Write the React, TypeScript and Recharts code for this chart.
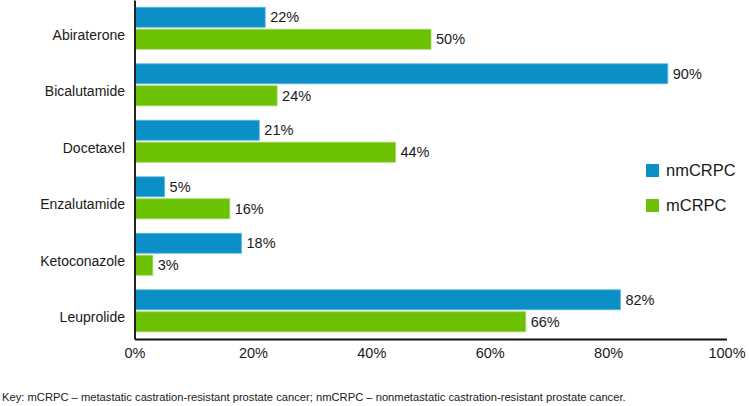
import { Bar, BarChart, LabelList, XAxis, YAxis } from "recharts";

const drugs = ["Abiraterone", "Bicalutamide", "Docetaxel", "Enzalutamide", "Ketoconazole", "Leuprolide"];
const nmCRPC = [22, 90, 21, 5, 18, 82];
const mCRPC = [50, 24, 44, 16, 3, 66];
const xTicks = [0, 20, 40, 60, 80, 100];

const seriesNames = ["nmCRPC", "mCRPC"];
const BLUE = "#0A8FC7";
const GREEN = "#6CC102";
const FONT = "'Liberation Sans', Arial, sans-serif";

const data = drugs.map((name, i) => ({ name, nmCRPC: nmCRPC[i], mCRPC: mCRPC[i] }));

function CategoryTick(props: any) {
  const { x, y, payload } = props;
  return (
    <text x={x - 2} y={y} dy={11} textAnchor="end" fontSize={14} fill="#1a1a1a" fontFamily={FONT}>
      {payload.value}
    </text>
  );
}

export default function App() {
  return (
    <div
      style={{
        position: "absolute",
        left: 0,
        top: 0,
        width: 749,
        height: 406,
        background: "#fff",
        fontFamily: FONT,
      }}
    >
      <BarChart
        width={749}
        height={380}
        data={data}
        layout="vertical"
        margin={{ top: 0.5, right: 22, bottom: 0, left: 0 }}
        barCategoryGap="12%"
        barGap={2}
      >
        <XAxis
          type="number"
          domain={[0, 100]}
          ticks={xTicks}
          tickFormatter={(v) => `${v}%`}
          tickLine={false}
          axisLine={{ stroke: "#111", strokeWidth: 2 }}
          tick={{ fontSize: 14.5, fill: "#1a1a1a", fontFamily: FONT }}
          height={40.5}
          interval={0}
        />
        <YAxis
          type="category"
          dataKey="name"
          width={135}
          tickLine={false}
          axisLine={{ stroke: "#222", strokeWidth: 2 }}
          tick={<CategoryTick />}
        />
        <Bar dataKey="nmCRPC" fill={BLUE} stroke="#5FB8E0" strokeWidth={0.8} isAnimationActive={false}>
          <LabelList
            dataKey="nmCRPC"
            position="right"
            offset={5}
            formatter={(v: any) => `${v}%`}
            style={{ fontSize: 14.5, fill: "#1a1a1a", fontFamily: FONT }}
          />
        </Bar>
        <Bar dataKey="mCRPC" fill={GREEN} stroke="#9AD65A" strokeWidth={0.8} isAnimationActive={false}>
          <LabelList
            dataKey="mCRPC"
            position="right"
            offset={5}
            formatter={(v: any) => `${v}%`}
            style={{ fontSize: 14.5, fill: "#1a1a1a", fontFamily: FONT }}
          />
        </Bar>
      </BarChart>

      {seriesNames.map((name, i) => (
        <div
          key={name}
          style={{
            position: "absolute",
            left: 646,
            top: 160 + i * 35,
            display: "flex",
            alignItems: "center",
            height: 20,
          }}
        >
          <span
            style={{
              display: "inline-block",
              width: 13,
              height: 13,
              background: i === 0 ? BLUE : GREEN,
              marginRight: 7,
            }}
          />
          <span style={{ fontSize: 16.5, color: "#1a1a1a" }}>{name}</span>
        </div>
      ))}

      <div
        style={{
          position: "absolute",
          left: 2,
          top: 391,
          fontSize: 11.2,
          color: "#1a1a1a",
          whiteSpace: "nowrap",
        }}
      >
        Key: mCRPC – metastatic castration-resistant prostate cancer; nmCRPC – nonmetastatic castration-resistant prostate cancer.
      </div>
    </div>
  );
}
